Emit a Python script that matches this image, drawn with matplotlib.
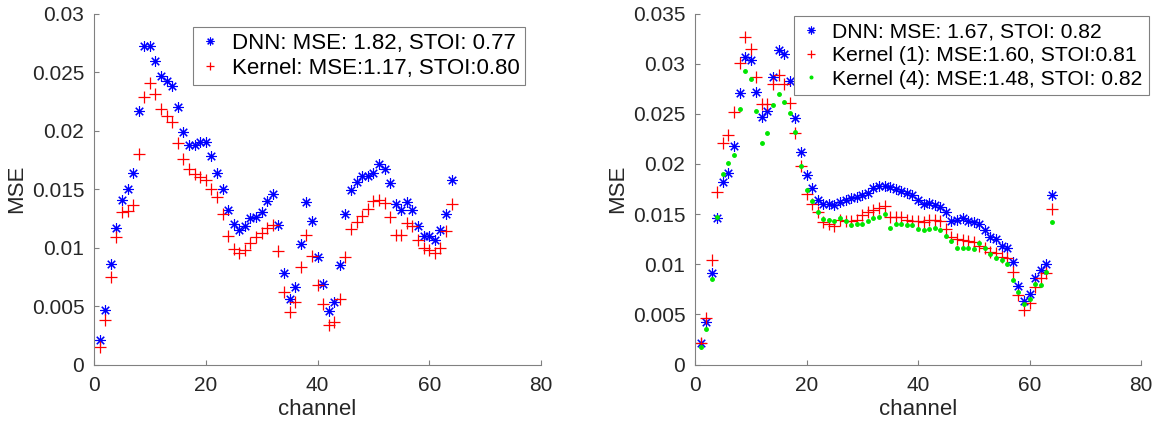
import matplotlib
matplotlib.use("Agg")
import matplotlib.pyplot as plt
import numpy as np

plt.rcParams['font.family'] = ['Liberation Sans', 'DejaVu Sans']

channels = list(range(1, 65))

left_dnn = [0.0021, 0.0047, 0.0086, 0.0117, 0.0141, 0.0150, 0.0164, 0.0217, 0.0272, 0.0272,
            0.0259, 0.0247, 0.0242, 0.0238, 0.0220, 0.0199, 0.0188, 0.0188, 0.0190, 0.0190,
            0.0178, 0.0164, 0.0150, 0.0132, 0.0120, 0.0115, 0.0118, 0.0125, 0.0126, 0.0130,
            0.0140, 0.0146, 0.0119, 0.0078, 0.0056, 0.0066, 0.0103, 0.0139, 0.0123, 0.0092,
            0.0069, 0.0046, 0.0053, 0.0085, 0.0129, 0.0149, 0.0156, 0.0161, 0.0161, 0.0164,
            0.0171, 0.0167, 0.0155, 0.0137, 0.0132, 0.0139, 0.0132, 0.0118, 0.0110, 0.0110,
            0.0106, 0.0115, 0.0129, 0.0158]
left_kernel = [0.0015, 0.0038, 0.0075, 0.0109, 0.0130, 0.0131, 0.0136, 0.0180, 0.0229, 0.0241,
               0.0231, 0.0218, 0.0212, 0.0207, 0.0189, 0.0176, 0.0167, 0.0163, 0.0160, 0.0158,
               0.0150, 0.0143, 0.0129, 0.0110, 0.0099, 0.0095, 0.0098, 0.0104, 0.0109, 0.0112,
               0.0117, 0.0119, 0.0097, 0.0062, 0.0045, 0.0053, 0.0083, 0.0111, 0.0093, 0.0068,
               0.0052, 0.0034, 0.0036, 0.0056, 0.0092, 0.0116, 0.0122, 0.0127, 0.0133, 0.0140,
               0.0141, 0.0138, 0.0126, 0.0111, 0.0111, 0.0121, 0.0118, 0.0106, 0.0100, 0.0098,
               0.0095, 0.0100, 0.0114, 0.0137]

right_dnn = [0.0021, 0.0042, 0.0091, 0.0146, 0.0182, 0.0191, 0.0218, 0.0271, 0.0307, 0.0304,
             0.0272, 0.0247, 0.0253, 0.0287, 0.0314, 0.0310, 0.0283, 0.0246, 0.0212, 0.0189,
             0.0176, 0.0164, 0.0160, 0.0160, 0.0159, 0.0162, 0.0164, 0.0166, 0.0167, 0.0169,
             0.0171, 0.0176, 0.0178, 0.0178, 0.0177, 0.0175, 0.0173, 0.0171, 0.0169, 0.0164,
             0.0160, 0.0161, 0.0159, 0.0157, 0.0152, 0.0143, 0.0144, 0.0146, 0.0143, 0.0142,
             0.0140, 0.0134, 0.0127, 0.0125, 0.0118, 0.0116, 0.0102, 0.0078, 0.0063, 0.0070,
             0.0086, 0.0094, 0.0100, 0.0169]
right_kernel1 = [0.0021, 0.0046, 0.0104, 0.0172, 0.0221, 0.0229, 0.0252, 0.0301, 0.0327, 0.0315,
                 0.0287, 0.0260, 0.0260, 0.0280, 0.0289, 0.0280, 0.0261, 0.0231, 0.0198, 0.0170,
                 0.0160, 0.0152, 0.0142, 0.0140, 0.0138, 0.0144, 0.0143, 0.0143, 0.0144, 0.0149,
                 0.0152, 0.0154, 0.0156, 0.0158, 0.0147, 0.0147, 0.0147, 0.0144, 0.0143, 0.0143,
                 0.0142, 0.0144, 0.0144, 0.0143, 0.0135, 0.0127, 0.0125, 0.0124, 0.0123, 0.0122,
                 0.0118, 0.0116, 0.0112, 0.0111, 0.0107, 0.0106, 0.0092, 0.0069, 0.0054, 0.0061,
                 0.0077, 0.0086, 0.0091, 0.0155]
right_kernel4 = [0.0017, 0.0035, 0.0085, 0.0147, 0.0190, 0.0201, 0.0209, 0.0255, 0.0293, 0.0285,
                 0.0253, 0.0221, 0.0231, 0.0259, 0.0270, 0.0262, 0.0251, 0.0232, 0.0198, 0.0174,
                 0.0163, 0.0152, 0.0145, 0.0144, 0.0143, 0.0146, 0.0143, 0.0139, 0.0140, 0.0140,
                 0.0143, 0.0146, 0.0147, 0.0150, 0.0136, 0.0140, 0.0140, 0.0139, 0.0139, 0.0135,
                 0.0134, 0.0135, 0.0136, 0.0134, 0.0128, 0.0123, 0.0116, 0.0116, 0.0116, 0.0115,
                 0.0121, 0.0116, 0.0110, 0.0106, 0.0104, 0.0100, 0.0084, 0.0072, 0.0060, 0.0065,
                 0.0080, 0.0079, 0.0092, 0.0142]

left_labels = ["DNN: MSE: 1.82, STOI: 0.77", "Kernel: MSE:1.17, STOI:0.80"]
right_labels = ["DNN: MSE: 1.67, STOI: 0.82", "Kernel (1): MSE:1.60, STOI:0.81",
                "Kernel (4): MSE:1.48, STOI: 0.82"]

x_ticks = [0, 20, 40, 60, 80]
left_yticks = [0, 0.005, 0.01, 0.015, 0.02, 0.025, 0.03]
left_yticklabels = ["0", "0.005", "0.01", "0.015", "0.02", "0.025", "0.03"]
right_yticks = [0, 0.005, 0.01, 0.015, 0.02, 0.025, 0.03, 0.035]
right_yticklabels = ["0", "0.005", "0.01", "0.015", "0.02", "0.025", "0.03", "0.035"]

W, H = 1159, 428
fig = plt.figure(figsize=(W / 100, H / 100), dpi=100)

def px_axes(x0, x1, ytop, ybot):
    return fig.add_axes([x0 / W, 1 - ybot / H, (x1 - x0) / W, (ybot - ytop) / H])

ax1 = px_axes(94, 541, 13.5, 364.5)
ax2 = px_axes(695, 1141, 13.5, 364.5)

star = (8, 2, 0)
blue = (0, 0, 1)
red = (1, 0, 0)
green = (0, 0.9, 0)

ax1.plot(channels, left_dnn, linestyle='none', marker=star, color=blue, markersize=7.5,
         markeredgewidth=0.8, label=left_labels[0])
ax1.plot(channels, left_kernel, linestyle='none', marker='+', color=red, markersize=8,
         markeredgewidth=0.9, label=left_labels[1])

ax2.plot(channels, right_dnn, linestyle='none', marker=star, color=blue, markersize=7.5,
         markeredgewidth=0.8, label=right_labels[0])
ax2.plot(channels, right_kernel1, linestyle='none', marker='+', color=red, markersize=8,
         markeredgewidth=0.9, label=right_labels[1])
ax2.plot(channels, right_kernel4, linestyle='none', marker='.', color=green, markersize=5,
         label=right_labels[2])

axis_col = '#808080'
text_col = '#262626'
for ax, yt, ytl, ymax in [(ax1, left_yticks, left_yticklabels, 0.03),
                          (ax2, right_yticks, right_yticklabels, 0.035)]:
    ax.set_xlim(0, 80)
    ax.set_ylim(0, ymax)
    ax.set_xticks(x_ticks)
    ax.set_xticklabels([str(t) for t in x_ticks])
    ax.set_yticks(yt)
    ax.set_yticklabels(ytl)
    for s in ['top', 'right']:
        ax.spines[s].set_visible(False)
    for s in ['left', 'bottom']:
        ax.spines[s].set_color(axis_col)
        ax.spines[s].set_linewidth(0.8)
    ax.tick_params(direction='in', length=3.5, width=0.8, color=axis_col,
                   labelcolor=text_col, labelsize=15)
    ax.tick_params(axis='x', pad=8)
    ax.tick_params(axis='y', pad=7)
    ax.set_xlabel('channel', fontsize=16, color=text_col, labelpad=3)
    ax.set_ylabel('MSE', fontsize=16, color=text_col, labelpad=3)

leg1 = ax1.legend(loc='upper left', bbox_to_anchor=(193 / W, 1 - 27 / H),
                  bbox_transform=fig.transFigure, borderaxespad=0, fontsize=16,
                  fancybox=False, edgecolor='#808080', framealpha=1,
                  handlelength=1.0, handletextpad=0.5, borderpad=0.25, labelspacing=0.2,
                  markerscale=0.75)
leg1.get_frame().set_linewidth(0.8)
for t in leg1.get_texts():
    t.set_color('black')

leg2 = ax2.legend(loc='upper left', bbox_to_anchor=(794 / W, 1 - 16 / H),
                  bbox_transform=fig.transFigure, borderaxespad=0, fontsize=15.2,
                  fancybox=False, edgecolor='#808080', framealpha=1,
                  handlelength=1.0, handletextpad=0.5, borderpad=0.3, labelspacing=0.22,
                  markerscale=0.75)
leg2.get_frame().set_linewidth(0.8)
for t in leg2.get_texts():
    t.set_color('black')

fig.savefig('out.png', dpi=100)
